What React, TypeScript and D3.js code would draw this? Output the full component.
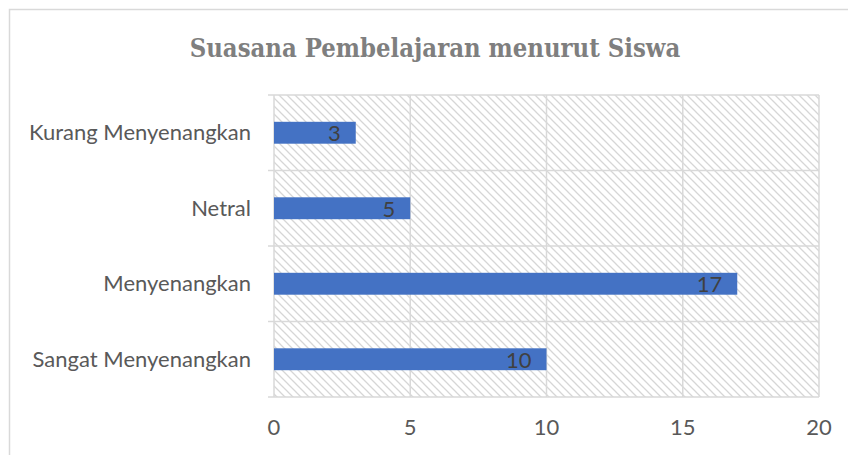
import React from "react";
import * as d3 from "d3";

const categories = ["Kurang Menyenangkan", "Netral", "Menyenangkan", "Sangat Menyenangkan"];
const values = [3, 5, 17, 10];
const xTicks = [0, 5, 10, 15, 20];
const title = "Suasana Pembelajaran menurut Siswa";

export default function App() {
  const W = 848, H = 455;
  const left = 274, right = 819, top = 95, bottom = 397;
  const x = d3.scaleLinear().domain([0, 20]).range([left, right]);
  const y = d3.scaleBand().domain(categories).range([top, bottom]).paddingInner(0.71).paddingOuter(0.355);
  const bands = d3.scaleBand().domain(categories).range([top, bottom]);
  const font = "Lato, Carlito, Calibri, sans-serif";
  const fs = 22;
  return (
    <svg width={W} height={H} style={{ position: "absolute", left: 0, top: 0 }}>
      <defs>
        <pattern id="hatch" width="8" height="8" patternUnits="userSpaceOnUse">
          <path d="M-2,-2 L10,10 M-2,6 L2,10 M6,-2 L10,2" stroke="#d6d6d6" strokeWidth="1.3" />
        </pattern>
      </defs>
      <rect x={0} y={0} width={W} height={H} fill="#fff" />
      <rect x={9.5} y={9.5} width={W + 20} height={H + 20} fill="#fff" stroke="#d9d9d9" strokeWidth={1.5} />
      <text transform="translate(435,57) scale(0.88,1)" textAnchor="middle" fontFamily="'DejaVu Serif', serif" fontWeight="bold" fontSize={26} fill="#7f7f7f">{title}</text>
      <rect x={left} y={top} width={right - left} height={bottom - top} fill="url(#hatch)" />
      {xTicks.map(t => (
        <line key={t} x1={x(t)} x2={x(t)} y1={top} y2={bottom} stroke="#d9d9d9" strokeWidth={1.5} />
      ))}
      {categories.map(c => (
        <line key={c} x1={left - 6} x2={right} y1={bands(c)!} y2={bands(c)!} stroke="#d9d9d9" strokeWidth={1.5} />
      ))}
      <line x1={left - 6} x2={right} y1={bottom} y2={bottom} stroke="#d9d9d9" strokeWidth={1.5} />
      {categories.map((c, i) => (
        <g key={c}>
          <rect x={x(0)} y={y(c)!} width={x(values[i]) - x(0)} height={y.bandwidth()} fill="#4472c4" />
          <text x={x(values[i]) - 15} y={y(c)! + y.bandwidth() / 2 + 1} dy="0.35em" textAnchor="end" fontFamily={font} fontSize={fs} fill="#404040">{values[i]}</text>
          <text x={251} y={bands(c)! + bands.bandwidth() / 2} dy="0.35em" textAnchor="end" fontFamily={font} fontSize={fs} fill="#595959">{c}</text>
        </g>
      ))}
      {xTicks.map(t => (
        <text key={t} x={x(t)} y={427} dy="0.35em" textAnchor="middle" fontFamily={font} fontSize={fs} fill="#595959">{t}</text>
      ))}
    </svg>
  );
}
